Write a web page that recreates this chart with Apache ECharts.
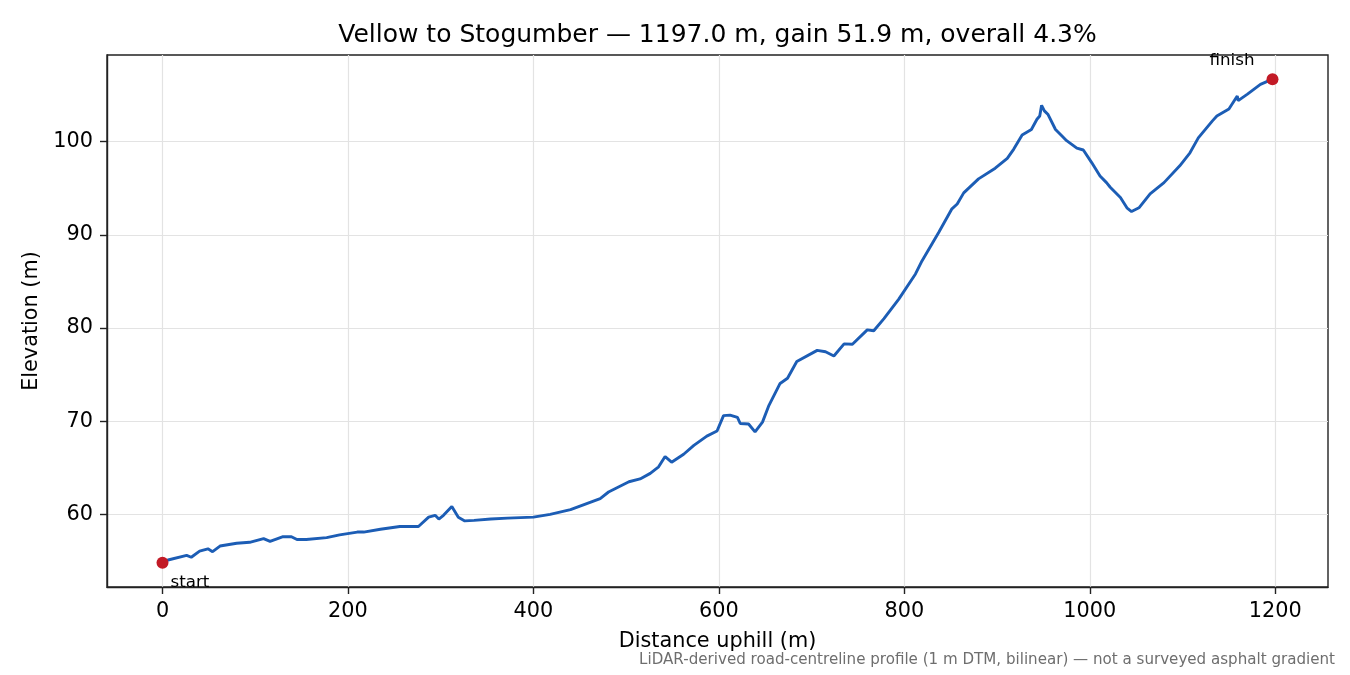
<!DOCTYPE html>
<html>
<head>
<meta charset="utf-8">
<script src="https://cdn.jsdelivr.net/npm/echarts@6/dist/echarts.min.js"></script>
<style>
html,body{margin:0;padding:0;background:#fff;}
#chart{width:1350px;height:675px;}
</style>
</head>
<body>
<div id="chart"></div>
<script>
// Distance uphill (m)
const distance = [0, 6, 26, 31, 40, 49, 54, 62, 80, 94, 109, 116, 130, 139, 145, 155, 177, 191, 210, 217, 235, 256, 276, 287, 294, 298, 303, 312, 319, 326, 336, 354, 372, 400, 418, 440, 472, 481, 503, 515, 526, 535, 542, 549, 562, 573, 587, 598, 605, 612, 620, 623, 632, 639, 647, 654, 666, 674, 684, 706, 715, 724, 735, 744, 760, 767, 778, 794, 812, 819, 837, 851, 857, 864, 880, 898, 911, 918, 927, 937, 943, 946, 948, 951, 955, 963, 970, 975, 986, 993, 1002, 1011, 1018, 1022, 1033, 1040, 1045, 1053, 1065, 1080, 1097, 1108, 1117, 1132, 1137, 1150, 1159, 1160, 1170, 1184, 1197];
// Elevation (m)
const elevation = [54.8, 55.1, 55.6, 55.4, 56.05, 56.3, 56.0, 56.6, 56.9, 57.0, 57.4, 57.1, 57.6, 57.6, 57.3, 57.3, 57.5, 57.8, 58.1, 58.1, 58.4, 58.7, 58.7, 59.7, 59.9, 59.5, 59.9, 60.85, 59.7, 59.3, 59.35, 59.5, 59.6, 59.7, 60.0, 60.5, 61.7, 62.4, 63.5, 63.8, 64.4, 65.1, 66.2, 65.6, 66.45, 67.4, 68.4, 68.95, 70.6, 70.65, 70.4, 69.75, 69.7, 68.85, 69.9, 71.7, 74.05, 74.6, 76.4, 77.6, 77.45, 77.0, 78.3, 78.25, 79.8, 79.7, 81.0, 83.1, 85.8, 87.2, 90.25, 92.75, 93.3, 94.5, 96.0, 97.15, 98.2, 99.2, 100.7, 101.3, 102.4, 102.75, 103.9, 103.3, 102.9, 101.3, 100.6, 100.1, 99.3, 99.1, 97.75, 96.3, 95.6, 95.1, 94.0, 92.9, 92.5, 92.9, 94.4, 95.6, 97.4, 98.8, 100.4, 102.2, 102.75, 103.5, 104.9, 104.4, 105.1, 106.15, 106.7];

const xTicks = [0, 200, 400, 600, 800, 1000, 1200];
const yTicks = [60, 70, 80, 90, 100];
const endpointNames = ['start', 'finish'];

const titleText = 'Vellow to Stogumber — 1197.0 m, gain 51.9 m, overall 4.3%';
const xName = 'Distance uphill (m)';
const yName = 'Elevation (m)';
const footnote = 'LiDAR-derived road-centreline profile (1 m DTM, bilinear) — not a surveyed asphalt gradient';

const FONT = 'DejaVu Sans';
const lineData = distance.map((d, i) => [d, elevation[i]]);
const n = distance.length;
const xMin = distance[0], xMax = distance[n - 1];
const yLo = Math.min(...elevation), yHi = Math.max(...elevation);
const xPad = (xMax - xMin) * 0.05, yPad = (yHi - yLo) * 0.05;

const chart = echarts.init(document.getElementById('chart'), null, {renderer: 'canvas'});
chart.setOption({
  animation: false,
  backgroundColor: '#ffffff',
  graphic: [
    {type: 'text', x: 717.5, y: 23, style: {text: titleText, font: '25px "DejaVu Sans"', fill: '#000', align: 'center', verticalAlign: 'top'}},
    {type: 'text', x: 1335, y: 660, style: {text: footnote, font: '15.1px "DejaVu Sans"', fill: '#6e6e6e', align: 'right', verticalAlign: 'middle'}}
  ],
  grid: {left: 107, right: 22, top: 55, bottom: 88, show: true, borderColor: '#222', borderWidth: 1.4, backgroundColor: 'transparent'},
  xAxis: {
    type: 'value', min: xMin - xPad, max: xMax + xPad,
    name: xName, nameLocation: 'middle', nameGap: 44,
    nameTextStyle: {fontFamily: FONT, fontSize: 20.8, color: '#000'},
    axisLine: {show: true, onZero: false, lineStyle: {color: '#222', width: 1.4}},
    axisTick: {show: true, length: 7, customValues: xTicks, lineStyle: {color: '#222', width: 1.4}},
    axisLabel: {customValues: xTicks, margin: 14, fontFamily: FONT, fontSize: 20.8, color: '#000', formatter: v => String(v)},
    splitLine: {show: true, lineStyle: {color: '#e3e3e3', width: 1.2}}
  },
  yAxis: {
    type: 'value', min: yLo - yPad, max: yHi + yPad,
    name: yName, nameLocation: 'middle', nameGap: 62,
    nameTextStyle: {fontFamily: FONT, fontSize: 20.8, color: '#000'},
    axisLine: {show: true, onZero: false, lineStyle: {color: '#222', width: 1.4}},
    axisTick: {show: true, length: 7, customValues: yTicks, lineStyle: {color: '#222', width: 1.4}},
    axisLabel: {customValues: yTicks, margin: 14, fontFamily: FONT, fontSize: 20.8, color: '#000', formatter: v => String(v)},
    splitLine: {show: true, lineStyle: {color: '#e3e3e3', width: 1.2}}
  },
  series: [
    {
      type: 'line', data: lineData, showSymbol: false, smooth: false,
      lineStyle: {color: '#1c5db5', width: 2.9}, z: 3
    },
    {
      type: 'scatter', symbolSize: 12, z: 4,
      itemStyle: {color: '#c21a26', opacity: 1},
      data: [
        {value: [distance[0], elevation[0]], label: {show: true, formatter: endpointNames[0], position: [14, 26], align: 'left', verticalAlign: 'middle'}},
        {value: [distance[n - 1], elevation[n - 1]], label: {show: true, formatter: endpointNames[1], position: [-12, -13], align: 'right', verticalAlign: 'middle'}}
      ],
      label: {fontFamily: FONT, fontSize: 16.7, color: '#000', opacity: 1},
      emphasis: {disabled: true}
    }
  ]
});
</script>
</body>
</html>
